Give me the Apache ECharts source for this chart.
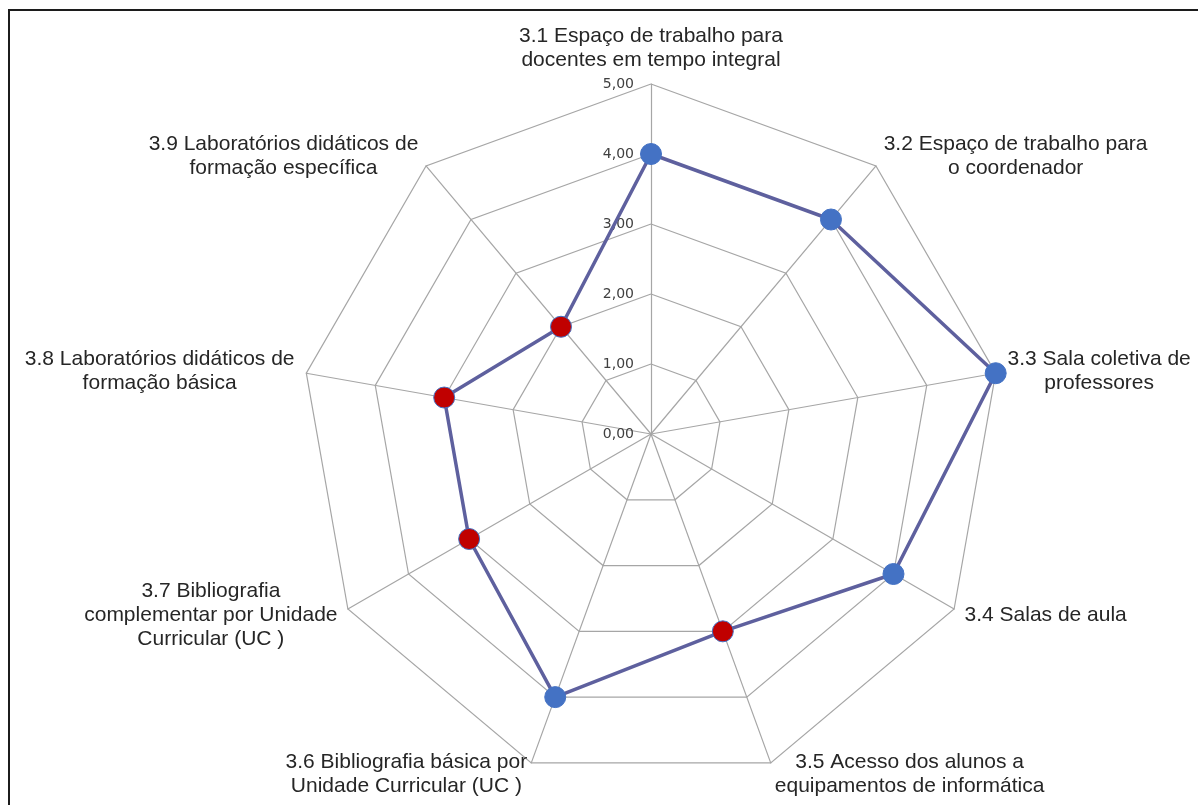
<!DOCTYPE html>
<html>
<head>
<meta charset="utf-8">
<script src="https://cdn.jsdelivr.net/npm/echarts@6/dist/echarts.min.js"></script>
<style>
  html, body { margin: 0; padding: 0; background: #fff; }
  #main { width: 1198px; height: 805px; }
  #frame {
    position: absolute; left: 8px; top: 9px; width: 1300px; height: 900px;
    border-left: 2px solid #1c1c1c; border-top: 2px solid #1c1c1c;
    pointer-events: none;
  }
</style>
</head>
<body>
<div id="main"></div>
<div id="frame"></div>
<script>
// itens avaliados (ordem horaria, a partir do topo)
var categories = [
  '3.1 Espaço de trabalho para\ndocentes em tempo integral',
  '3.2 Espaço de trabalho para\no coordenador',
  '3.3 Sala coletiva de\nprofessores',
  '3.4 Salas de aula',
  '3.5 Acesso dos alunos a\nequipamentos de informática',
  '3.6 Bibliografia básica por\nUnidade Curricular (UC )',
  '3.7 Bibliografia\ncomplementar por Unidade\nCurricular (UC )',
  '3.8 Laboratórios didáticos de\nformação básica',
  '3.9 Laboratórios didáticos de\nformação específica'
];
var values = [4, 4, 5, 4, 3, 4, 3, 3, 2];
var scaleMax = 5;
var tickLabels = ['0,00', '1,00', '2,00', '3,00', '4,00', '5,00'];
var goal = 4; // abaixo disso o ponto fica vermelho

var CENTER = [651, 434];
var RADIUS = 350;

// echarts desenha o radar no sentido anti-horario, entao invertemos
var order = [0];
for (var i = categories.length - 1; i > 0; i--) order.push(i);

var indicator = order.map(function (idx, k) {
  return { name: categories[idx], max: scaleMax, min: 0, axisLabel: { show: k === 0 } };
});

// pontos desenhados num polar (sentido horario) sobreposto ao radar
var points = values.map(function (v, idx) {
  return {
    value: [v, idx],
    itemStyle: { color: v < goal ? '#C00000' : '#4472C4' }
  };
});

var chart = echarts.init(document.getElementById('main'));

var option = {
  backgroundColor: '#ffffff',
  animation: false,
  radar: {
    center: CENTER,
    radius: RADIUS,
    startAngle: 90,
    shape: 'polygon',
    splitNumber: 5,
    indicator: indicator,
    nameGap: 12,
    axisName: {
      color: '#262626',
      fontFamily: 'Liberation Sans, Arial, sans-serif',
      fontSize: 21,
      lineHeight: 24,
      formatter: function (name) {
        return name.split('\n').map(function (s) { return '{c|' + s + '}'; }).join('\n');
      },
      rich: {
        c: {
          align: 'center',
          color: '#262626',
          fontFamily: 'Liberation Sans, Arial, sans-serif',
          fontSize: 21,
          lineHeight: 24
        }
      }
    },
    axisLine: { lineStyle: { color: '#A6A6A6', width: 1.2 } },
    splitLine: { lineStyle: { color: '#A6A6A6', width: 1.2 } },
    splitArea: { show: false },
    axisTick: { show: false },
    axisLabel: {
      show: true,
      margin: 17,
      color: '#404040',
      fontFamily: 'DejaVu Sans, sans-serif',
      fontSize: 14,
      formatter: function (v) { return tickLabels[Math.round(v)]; }
    }
  },
  polar: {
    center: CENTER,
    radius: RADIUS
  },
  angleAxis: {
    type: 'category',
    data: categories,
    boundaryGap: false,
    startAngle: 90,
    clockwise: true,
    axisLine: { show: false },
    axisTick: { show: false },
    axisLabel: { show: false },
    splitLine: { show: false }
  },
  radiusAxis: {
    min: 0,
    max: scaleMax,
    axisLine: { show: false },
    axisTick: { show: false },
    axisLabel: { show: false },
    splitLine: { show: false }
  },
  series: [{
    type: 'radar',
    symbol: 'none',
    lineStyle: { color: '#5E609E', width: 3.5 },
    data: [{ value: order.map(function (idx) { return values[idx]; }) }]
  }, {
    type: 'scatter',
    coordinateSystem: 'polar',
    symbol: 'circle',
    symbolSize: 21,
    z: 5,
    itemStyle: { borderColor: '#4472C4', borderWidth: 1, opacity: 1 },
    data: points
  }]
};

chart.setOption(option);
</script>
</body>
</html>
